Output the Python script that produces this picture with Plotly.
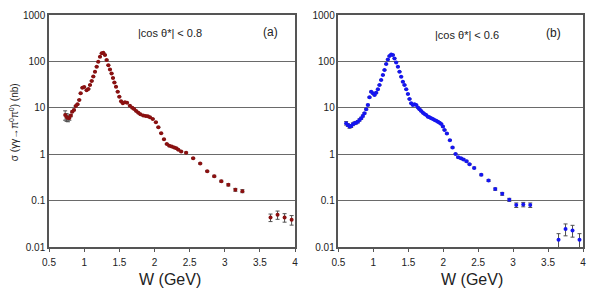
import plotly.graph_objects as go

# ---- data: panel (a) |cos theta*| < 0.8 ----
w_a = [0.73, 0.75, 0.77, 0.79, 0.81, 0.83, 0.855, 0.88, 0.905, 0.93, 0.95, 0.975,
       1.00, 1.035, 1.06, 1.083, 1.107, 1.13, 1.154, 1.178, 1.20, 1.225, 1.25, 1.272,
       1.296, 1.32, 1.344, 1.367, 1.39, 1.41, 1.43, 1.453, 1.477, 1.50, 1.525, 1.55,
       1.58, 1.61, 1.65, 1.685, 1.71, 1.74, 1.77, 1.80, 1.84, 1.875, 1.905, 1.935,
       1.975, 2.02, 2.055, 2.095, 2.135, 2.175, 2.21, 2.245, 2.28, 2.31, 2.34, 2.38,
       2.45, 2.55, 2.65, 2.75, 2.85, 2.95, 3.05, 3.15, 3.25, 3.65, 3.75, 3.85, 3.95]
s_a = [7.0, 6.3, 6.0, 6.0, 6.8, 8.2, 9.0, 10.9, 11.9, 14.8, 20.5, 27.0,
       28.0, 24.0, 25.5, 31, 38, 47, 60, 77, 98, 126, 149, 153,
       137, 107, 83, 67, 55, 44, 35, 28.4, 22.2, 17.3, 13.8, 12.6,
       13.2, 12.9, 11.1, 10.0, 9.4, 8.5, 7.85, 7.25, 6.8, 6.65, 6.55, 6.25,
       5.75, 4.9, 3.8, 2.83, 2.1, 1.66, 1.53, 1.46, 1.39, 1.35, 1.24, 1.14,
       1.08, 0.82, 0.63, 0.43, 0.336, 0.262, 0.219, 0.171, 0.160, 0.0433, 0.0495, 0.0433, 0.0386]
e_a = [1.6, 1.2, 1.0, 0.6, 0.4, 0.3, 0.3, 0.3, 0.3, 0.3, 0.4, 0.5,
       0.5, 0.5, 0.5, 0.5, 0.6, 0.7, 0.8, 1.0, 1.2, 1.5, 1.8, 1.8,
       1.6, 1.3, 1.0, 0.8, 0.7, 0.6, 0.5, 0.4, 0.3, 0.3, 0.25, 0.25,
       0.25, 0.25, 0.2, 0.2, 0.2, 0.15, 0.15, 0.15, 0.15, 0.15, 0.15, 0.15,
       0.12, 0.1, 0.08, 0.06, 0.05, 0.04, 0.04, 0.04, 0.04, 0.04, 0.03, 0.03,
       0.03, 0.025, 0.02, 0.015, 0.015, 0.012, 0.012, 0.012, 0.012, 0.008, 0.01, 0.009, 0.009]

# ---- data: panel (b) |cos theta*| < 0.6 ----
w_b = [0.61, 0.634, 0.658, 0.682, 0.706, 0.729, 0.753, 0.778, 0.801, 0.825, 0.849, 0.872,
       0.897, 0.921, 0.944, 0.968, 0.993, 1.016, 1.04, 1.064, 1.087, 1.111, 1.136, 1.159,
       1.183, 1.207, 1.23, 1.255, 1.279, 1.302, 1.326, 1.351, 1.374, 1.398, 1.422, 1.445,
       1.47, 1.494, 1.517, 1.541, 1.565, 1.588, 1.613, 1.637, 1.66, 1.684, 1.709, 1.732,
       1.756, 1.78, 1.803, 1.828, 1.852, 1.875, 1.899, 1.923, 1.946, 1.971, 1.995, 2.018,
       2.052, 2.095, 2.133, 2.176, 2.214, 2.253, 2.29, 2.333, 2.376, 2.443, 2.544, 2.648,
       2.744, 2.844, 2.945, 3.045, 3.145, 3.245, 3.65, 3.75, 3.85, 3.95]
s_b = [4.64, 4.27, 3.93, 4.06, 4.42, 4.64, 4.79, 5.03, 5.47, 5.94, 6.66, 7.62,
       9.29, 11.5, 16.8, 22.2, 20.5, 18.8, 21.1, 25.0, 30.9, 39.6, 50.7, 65,
       87.5, 110, 130, 141, 137, 116, 95, 76.5, 59.7, 46.7, 36.4, 30.9,
       25.0, 19.8, 15.5, 12.5, 11.5, 11.9, 11.5, 10.2, 9.3, 8.53, 7.85, 7.36,
       7.0, 6.44, 6.25, 5.94, 5.74, 5.47, 5.28, 5.03, 4.79, 4.49, 3.93, 3.33,
       2.78, 2.0, 1.39, 1.01, 0.86, 0.82, 0.766, 0.707, 0.61, 0.507, 0.359, 0.27,
       0.177, 0.14, 0.104, 0.080, 0.0824, 0.080, 0.0144, 0.0244, 0.0228, 0.0144]
e_b = [0.4, 0.3, 0.3, 0.3, 0.3, 0.3, 0.3, 0.3, 0.3, 0.3, 0.3, 0.3,
       0.3, 0.4, 0.5, 0.6, 0.6, 0.5, 0.6, 0.6, 0.7, 0.8, 1.0, 1.2,
       1.5, 1.7, 2.0, 2.0, 2.0, 1.7, 1.4, 1.2, 1.0, 0.8, 0.6, 0.5,
       0.4, 0.35, 0.3, 0.25, 0.25, 0.25, 0.25, 0.2, 0.2, 0.2, 0.15, 0.15,
       0.15, 0.15, 0.15, 0.15, 0.12, 0.12, 0.12, 0.12, 0.12, 0.1, 0.1, 0.08,
       0.07, 0.05, 0.04, 0.03, 0.03, 0.03, 0.03, 0.03, 0.02, 0.02, 0.015, 0.012,
       0.01, 0.01, 0.008, 0.009, 0.009, 0.009, 0.005, 0.007, 0.0065, 0.005]

y_tickvals = [0.01, 0.1, 1, 10, 100, 1000]
y_ticktext = ["0.01", "0.1", "1", "10", "100", "1000"]
x_tickvals = [0.5, 1, 1.5, 2, 2.5, 3, 3.5, 4]
x_ticktext = ["0.5", "1", "1.5", "2", "2.5", "3", "3.5", "4"]

FONT = "Liberation Sans, Arial, sans-serif"
fig = go.Figure()

for w, s, e, col, xa, ya in [(w_a, s_a, e_a, "#8b1010", "x", "y"),
                              (w_b, s_b, e_b, "#1515f0", "x2", "y2")]:
    fig.add_trace(go.Scatter(
        x=w, y=s, mode="markers", xaxis=xa, yaxis=ya,
        marker=dict(color=col, size=4, symbol="circle"),
        error_y=dict(type="data", array=e, color="#505050", thickness=1, width=2),
        showlegend=False))

# page body has an 8px offset; plot area on screen x 49..582.7, y 14.7..247
OFF = 8
ML, MT = 49 - OFF, 14.7 - OFF
PR, PB = 582.7 - OFF, 247 - OFF
PW, PH = PR - ML, PB - MT


def px(sx):
    return (sx - OFF - ML) / PW


def py(sy):
    return 1 - (sy - OFF - MT) / PH


axis_common = dict(showline=True, linecolor="#555555", linewidth=1.5, mirror=True,
                   zeroline=False, automargin=False)
xa_common = dict(range=[0.5, 4], tickvals=x_tickvals, ticktext=x_ticktext,
                 ticks="outside", ticklen=3, tickcolor="#555555", showgrid=False,
                 ticklabelstandoff=2, **axis_common)
ya_common = dict(domain=[0, 1], type="log", range=[-2, 3], tickvals=y_tickvals, ticktext=y_ticktext,
                 showgrid=True, gridcolor="#6a6a6a", gridwidth=1, ticks="", **axis_common)


def label(text, sx, sy, size, angle=0):
    return dict(text=text, x=px(sx), y=py(sy), xref="paper", yref="paper",
                xanchor="center", yanchor="middle", textangle=angle,
                showarrow=False, font=dict(size=size))


fig.update_layout(
    width=600, height=292,
    margin=dict(l=ML, r=600 - PR, t=MT, b=292 - PB),
    paper_bgcolor="white", plot_bgcolor="white",
    font=dict(family=FONT, size=10, color="#222222"),
    xaxis=dict(domain=[0, px(295)], anchor="y", **xa_common),
    yaxis=dict(anchor="x", **ya_common),
    xaxis2=dict(domain=[px(338.3), 1], anchor="y2", **xa_common),
    yaxis2=dict(anchor="x2", **ya_common),
    annotations=[
        label("σ (γγ→π<sup>0</sup>π<sup>0</sup>) (nb)", 14, 122, 10, -90),
        label("W (GeV)", 170, 280, 16),
        label("W (GeV)", 472, 280, 16),
        label("|cos θ*| < 0.8", 170, 33, 11),
        label("(a)", 270, 32, 12),
        label("|cos θ*| < 0.6", 467, 35, 11),
        label("(b)", 553, 33, 12),
    ],
)

fig.write_html("out.html")
